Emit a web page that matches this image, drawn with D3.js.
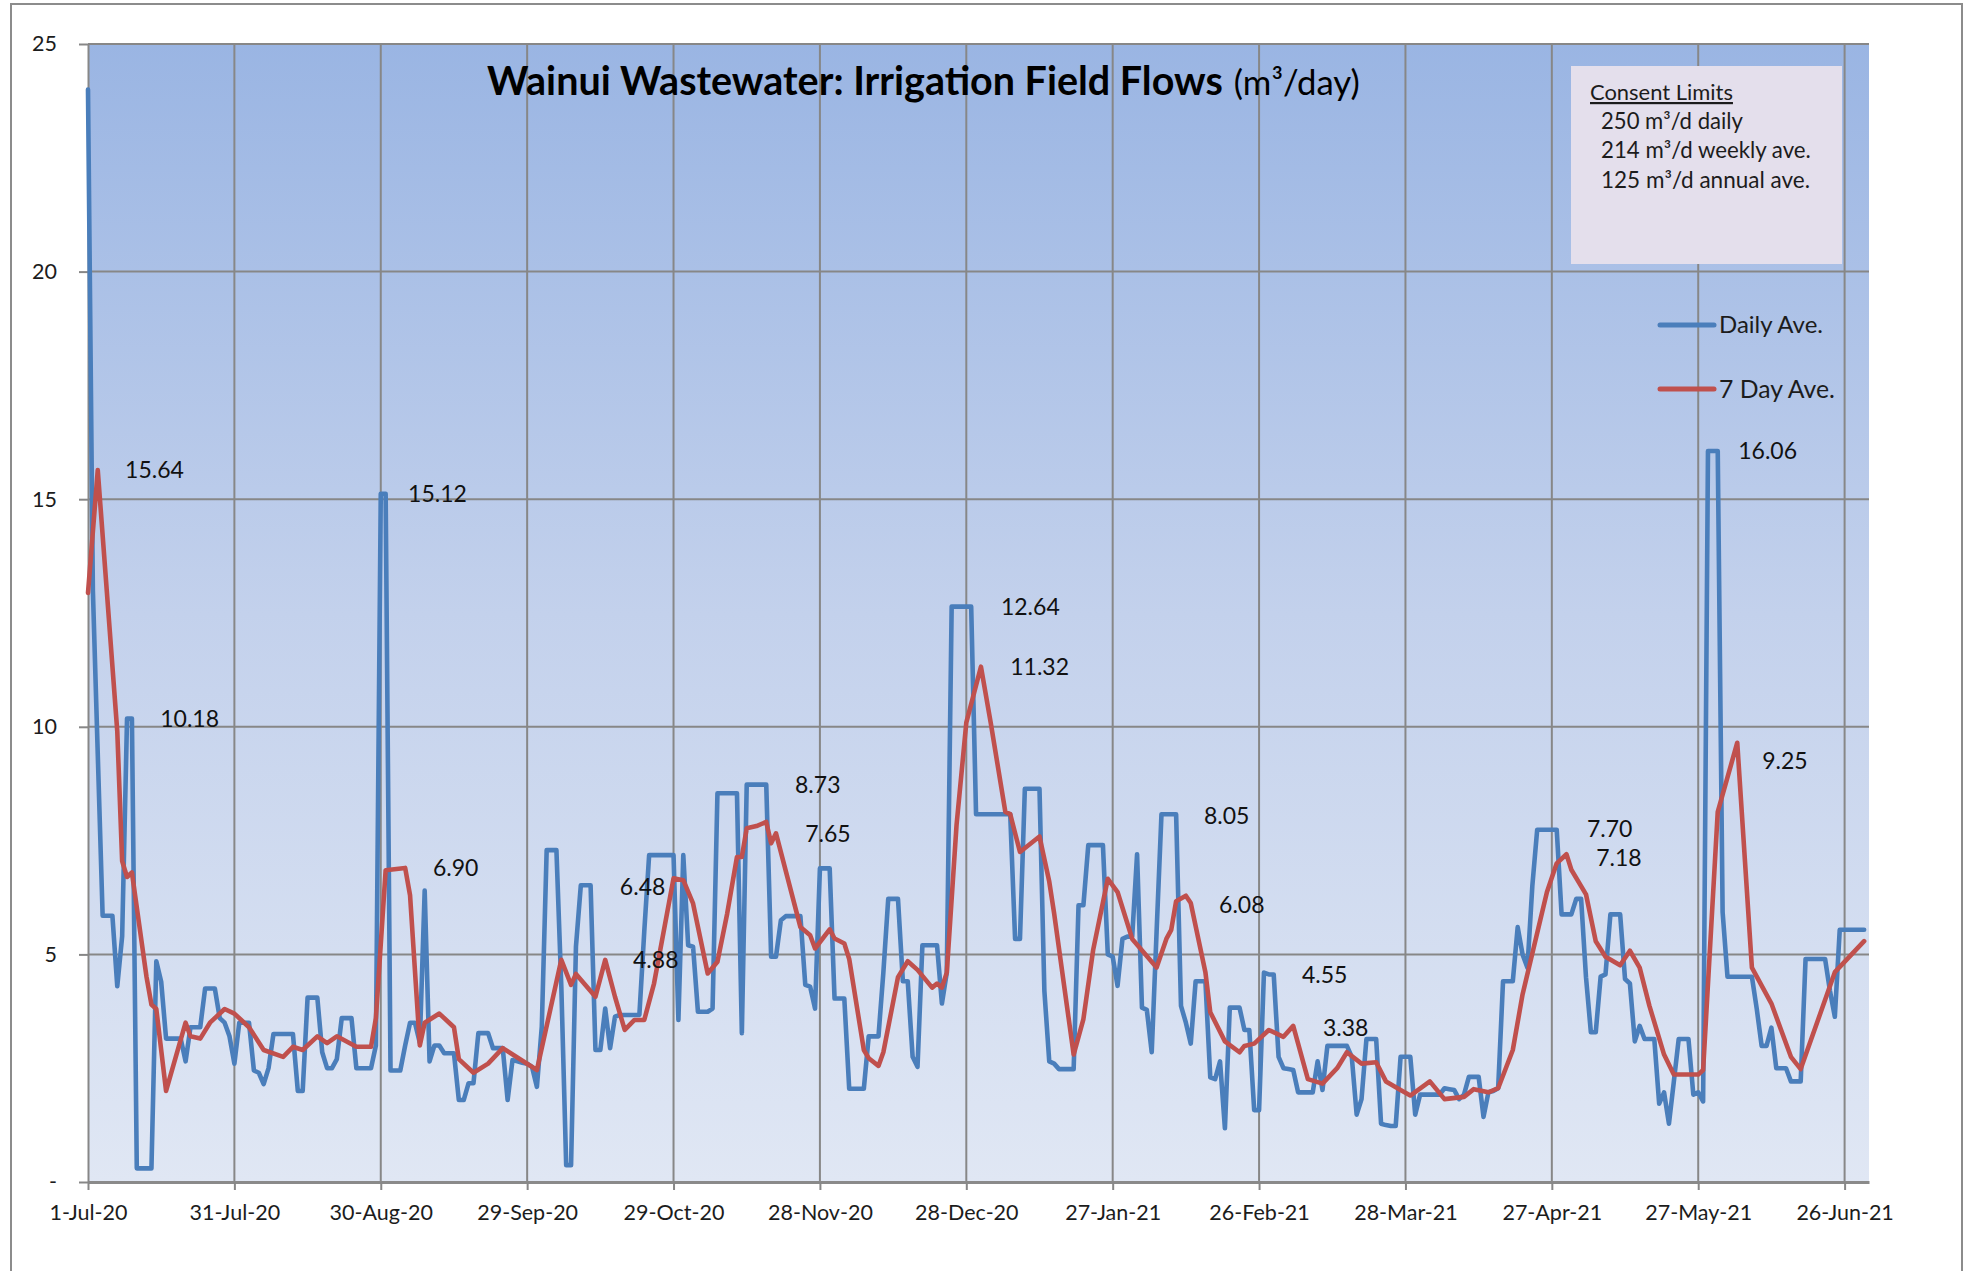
<!DOCTYPE html>
<html><head><meta charset="utf-8">
<script src="https://cdn.jsdelivr.net/npm/d3@7"></script>
<style>
html,body{margin:0;padding:0;background:#fff;}
svg{display:block;font-family:Lato,"Noto Sans",sans-serif;}
</style></head><body>
<svg id="chart" width="1963" height="1271"></svg>
<script>
// ---------------- DATA ----------------
const startDate = "2020-07-01";
const endDate = "2021-07-01";
const xTickLabels = ["1-Jul-20","31-Jul-20","30-Aug-20","29-Sep-20","29-Oct-20","28-Nov-20","28-Dec-20","27-Jan-21","26-Feb-21","28-Mar-21","27-Apr-21","27-May-21","26-Jun-21"];
const yTickValues = [0,5,10,15,20,25];
const yTickLabels = ["-","5","10","15","20","25"];
const seriesNames = ["Daily Ave.","7 Day Ave."];
const titleMain = "Wainui Wastewater: Irrigation Field Flows";
const titleUnit = "(m³/day)";
const consentTitle = "Consent Limits";
const consentLines = ["250 m³/d daily","214 m³/d weekly ave.","125 m³/d annual ave."];

// Daily average, one value per day from 1-Jul-20
const dailyAve = [
24.0,13.0,9.4,5.85,5.85,5.85,4.3,5.4,10.18,10.18,
0.3,0.3,0.3,0.3,4.85,4.4,3.15,3.15,3.15,3.15,
2.65,3.4,3.4,3.4,4.25,4.25,4.25,3.6,3.5,3.2,
2.6,3.5,3.5,3.5,2.45,2.4,2.15,2.5,3.25,3.25,
3.25,3.25,3.25,2.0,2.0,4.05,4.05,4.05,2.85,2.5,
2.5,2.7,3.6,3.6,3.6,2.5,2.5,2.5,2.5,3.0,
15.12,15.12,2.45,2.45,2.45,3.0,3.5,3.5,3.06,6.4,
2.65,3.0,3.0,2.83,2.83,2.83,1.8,1.8,2.17,2.17,
3.27,3.27,3.27,2.94,2.94,2.94,1.8,2.68,2.65,2.62,
2.6,2.53,2.09,3.41,7.29,7.29,7.29,4.3,0.37,0.37,
5.17,6.52,6.52,6.52,2.9,2.9,3.81,2.94,3.63,3.67,
3.67,3.67,3.67,3.67,5.5,7.18,7.18,7.18,7.18,7.18,
7.18,3.56,7.18,5.2,5.17,3.74,3.74,3.74,3.81,8.54,
8.54,8.54,8.54,8.54,3.27,8.73,8.73,8.73,8.73,8.73,
4.95,4.95,5.75,5.84,5.84,5.84,5.84,4.33,4.29,3.81,
6.89,6.89,6.89,4.03,4.03,4.03,2.05,2.05,2.05,2.05,
3.2,3.2,3.2,4.6,6.22,6.22,6.22,4.41,4.41,2.75,
2.53,5.2,5.2,5.2,5.2,3.92,4.6,12.64,12.64,12.64,
12.64,12.64,8.08,8.08,8.08,8.08,8.08,8.08,8.08,8.08,
5.34,5.34,8.64,8.64,8.64,8.64,4.2,2.65,2.6,2.48,
2.48,2.48,2.48,6.08,6.08,7.4,7.4,7.4,7.4,5.0,
4.95,4.31,5.34,5.39,5.39,7.2,3.83,3.78,2.85,5.5,
8.08,8.08,8.08,8.08,3.87,3.5,3.04,4.41,4.41,4.41,
2.3,2.26,2.65,1.18,3.83,3.83,3.83,3.34,3.34,1.58,
1.58,4.6,4.56,4.56,2.75,2.5,2.48,2.46,1.97,1.97,
1.97,1.97,2.65,2.02,2.99,2.99,2.99,2.99,2.99,2.75,
1.48,1.82,3.14,3.14,3.14,1.28,1.25,1.23,1.23,2.75,
2.75,2.75,1.48,1.92,1.92,1.92,1.92,1.92,2.06,2.04,
2.02,1.82,1.92,2.31,2.31,2.31,1.43,1.97,2.0,2.06,
4.41,4.41,4.41,5.6,5.0,4.71,6.5,7.74,7.74,7.74,
7.74,7.74,5.88,5.88,5.88,6.22,6.22,4.5,3.29,3.29,
4.51,4.56,5.88,5.88,5.88,4.46,4.36,3.09,3.43,3.14,
3.14,3.14,1.72,1.97,1.28,2.2,3.14,3.14,3.14,1.92,
1.97,1.77,16.06,16.06,16.06,5.93,4.51,4.51,4.51,4.51,
4.51,4.51,3.8,2.99,2.99,3.39,2.5,2.5,2.5,2.21,
2.21,2.21,4.9,4.9,4.9,4.9,4.9,4.2,3.63,5.54,
5.54,5.54,5.54,5.54,5.54
];

// 7-day average, read at the visible vertices (day offset from 1-Jul-20)
const sevenDayDays = [0,2,6,7,8,9,12,13,14,16,20,21,23,25,28,30,33,36,40,42,44,47,49,51,55,58,59,61,65,66,68,69,72,75,76,79,82,85,92,97,99,100,104,106,108,110,112,114,116,120,122,124,127,129,131,133,134,135,137,139,140,141,146,148,149,152,153,155,156,159,160,162,163,166,168,170,173,174,175,176,178,180,183,185,188,189,191,195,197,198,202,204,206,209,211,214,219,221,222,223,225,226,229,230,233,236,237,239,242,245,247,250,253,256,258,261,264,266,269,271,275,278,282,284,287,289,292,294,299,301,303,304,307,309,311,314,316,318,320,323,325,330,331,334,338,341,345,349,351,358,361,364];
const sevenDayAve = [12.94,15.64,9.9,7.05,6.7,6.8,4.5,3.9,3.8,2.0,3.5,3.2,3.15,3.5,3.8,3.7,3.4,2.9,2.75,2.97,2.9,3.2,3.05,3.2,2.97,2.97,3.6,6.85,6.9,6.3,3.0,3.5,3.7,3.4,2.7,2.4,2.6,2.94,2.46,4.88,4.33,4.57,4.07,4.88,4.07,3.34,3.56,3.56,4.36,6.67,6.63,6.12,4.58,4.84,5.9,7.14,7.14,7.77,7.82,7.91,7.44,7.66,5.6,5.42,5.13,5.55,5.35,5.24,4.9,2.9,2.72,2.55,2.85,4.5,4.85,4.66,4.27,4.36,4.27,4.6,7.84,10.09,11.32,10.09,8.13,8.08,7.25,7.59,6.6,5.9,2.8,3.58,5.1,6.66,6.37,5.34,4.71,5.34,5.54,6.17,6.29,6.13,4.61,3.73,3.09,2.85,2.99,3.04,3.34,3.19,3.43,2.26,2.16,2.5,2.85,2.6,2.63,2.21,2.02,1.9,2.21,1.82,1.87,2.04,1.97,2.06,2.9,4.12,6.37,7.0,7.2,6.86,6.32,5.29,4.95,4.76,5.08,4.71,3.87,2.8,2.36,2.36,2.46,8.13,9.65,4.71,3.92,2.75,2.48,4.61,4.95,5.29];

// Data labels (text) and where they are anchored (day, value level)
const labelTexts = ["15.64","10.18","15.12","6.90","6.48","4.88","8.73","7.65","12.64","11.32","8.05","6.08","4.55","3.38","7.70","7.18","16.06","9.25"];
const labelDays = [7.6,14.8,65.6,70.7,109.0,111.7,144.9,147.0,187.1,189.0,228.7,231.8,248.8,253.1,307.2,309.1,338.2,343.1];
const labelLevels = [15.64,10.18,15.12,6.90,6.48,4.88,8.73,7.65,12.64,11.32,8.05,6.08,4.55,3.38,7.76,7.12,16.06,9.25];

// ---------------- CHART ----------------
const svg = d3.select("#chart");
const PL = 88, PR = 1869, PT = 44, PB = 1182;
const parseISO = d3.timeParse("%Y-%m-%d");
const parseTick = d3.timeParse("%d-%b-%y");
const t0 = parseISO(startDate), t1 = parseISO(endDate);
const dayDate = d => new Date(t0.getTime() + d * 86400000);
const tickDates = xTickLabels.map(parseTick);

const x = d3.scaleTime().domain([t0, t1]).range([PL, PR]);
const y = d3.scaleLinear().domain([0, 25]).range([PB, PT]);

const GRID = "#878787";
const BLUE = "#4a7ebb";
const RED = "#c0504d";
const TXT = "#1c1c1c";

// gradient
const defs = svg.append("defs");
const grad = defs.append("linearGradient").attr("id","bg").attr("x1",0).attr("y1",0).attr("x2",0).attr("y2",1);
grad.append("stop").attr("offset","0%").attr("stop-color","#9ab5e3");
grad.append("stop").attr("offset","50%").attr("stop-color","#c3d1ec");
grad.append("stop").attr("offset","100%").attr("stop-color","#e0e7f4");

svg.append("rect").attr("x",PL).attr("y",PT).attr("width",PR-PL).attr("height",PB-PT).attr("fill","url(#bg)");

// outer frame
svg.append("rect").attr("x",11).attr("y",4).attr("width",1951).attr("height",1320)
  .attr("fill","none").attr("stroke","#8c8c8c").attr("stroke-width",2);

// gridlines
svg.append("g").selectAll("line").data(yTickValues.filter(v=>v>0)).join("line")
  .attr("x1",PL).attr("x2",PR).attr("y1",d=>y(d)).attr("y2",d=>y(d))
  .attr("stroke",GRID).attr("stroke-width",2);
svg.append("g").selectAll("line").data(tickDates.slice(1)).join("line")
  .attr("x1",d=>x(d)).attr("x2",d=>x(d)).attr("y1",PT).attr("y2",PB)
  .attr("stroke",GRID).attr("stroke-width",2);

// axes
const xAxis = d3.axisBottom(x).tickValues(tickDates).tickFormat((d,i)=>xTickLabels[i])
  .tickSize(8).tickSizeOuter(0).tickPadding(15);
const gx = svg.append("g").attr("transform",`translate(0,${PB})`).call(xAxis);
gx.select(".domain").attr("stroke","#8a8a8a").attr("stroke-width",3);
gx.selectAll(".tick line").attr("stroke",GRID).attr("stroke-width",2);
gx.selectAll(".tick text").attr("fill",TXT).attr("font-size",21.5).attr("font-family","Lato");

const yAxis = d3.axisLeft(y).tickValues(yTickValues).tickFormat((d,i)=>yTickLabels[i])
  .tickSize(9).tickSizeOuter(0).tickPadding(22);
const gy = svg.append("g").attr("transform",`translate(${PL},0)`).call(yAxis);
gy.select(".domain").attr("stroke",GRID).attr("stroke-width",2);
gy.selectAll(".tick line").attr("stroke",GRID).attr("stroke-width",2);
gy.selectAll(".tick text").attr("fill",TXT).attr("font-size",21.5).attr("font-family","Lato");

// lines
const line = d3.line().x(d=>x(d[0])).y(d=>y(d[1]));
const dailyPts = dailyAve.map((v,i)=>[dayDate(i), v]);
const sevenPts = sevenDayAve.map((v,i)=>[dayDate(sevenDayDays[i]), v]);
svg.append("path").datum(dailyPts).attr("d",line).attr("fill","none")
  .attr("stroke",BLUE).attr("stroke-width",4.6).attr("stroke-linejoin","round").attr("stroke-linecap","round");
svg.append("path").datum(sevenPts).attr("d",line).attr("fill","none")
  .attr("stroke",RED).attr("stroke-width",4.6).attr("stroke-linejoin","round").attr("stroke-linecap","round");

// data labels
svg.append("g").selectAll("text").data(labelTexts).join("text")
  .attr("x",(d,i)=>x(dayDate(labelDays[i])))
  .attr("y",(d,i)=>y(labelLevels[i]))
  .attr("dy","0.35em")
  .attr("font-size",23).attr("fill","#111").text(d=>d);

// helper: scale font so text spans a target width
function fit(sel, target){
  const w = sel.node().getComputedTextLength();
  const fs = parseFloat(sel.attr("font-size"));
  sel.attr("font-size", fs*target/w);
  return fs*target/w;
}

// title
const tmpB = svg.append("text").attr("font-weight",700).attr("font-size",100).text(titleMain);
const titleFs = 100*736/tmpB.node().getComputedTextLength();
tmpB.remove();
const tmpU = svg.append("text").attr("font-weight",400).attr("font-size",100).text(titleUnit);
const unitFs = 100*126/tmpU.node().getComputedTextLength();
tmpU.remove();
const title = svg.append("text").attr("x",487).attr("y",95).attr("fill","#000");
title.append("tspan").attr("font-weight",700).attr("font-size",titleFs).text(titleMain);
title.append("tspan").attr("font-weight",400).attr("font-size",unitFs).attr("dx",11).text(titleUnit);

// consent limits box
svg.append("rect").attr("x",1571).attr("y",66).attr("width",271).attr("height",198).attr("fill","#e4dfec");
const ct = svg.append("text").attr("x",1590).attr("y",100).attr("font-size",21).attr("fill",TXT)
  .attr("text-decoration","underline").text(consentTitle);
fit(ct,143);
const lineTargets = [142,210,209];
const lineBase = [129,158,188];
consentLines.forEach((s,i)=>{
  const t = svg.append("text").attr("x",1601).attr("y",lineBase[i]).attr("font-size",21).attr("fill",TXT).text(s);
  fit(t,lineTargets[i]);
});

// legend
const legY = [325,389];
const legCol = [BLUE,RED];
const legW = [104,116];
seriesNames.forEach((s,i)=>{
  svg.append("line").attr("x1",1660).attr("x2",1714).attr("y1",legY[i]).attr("y2",legY[i])
    .attr("stroke",legCol[i]).attr("stroke-width",5).attr("stroke-linecap","round");
  const t = svg.append("text").attr("x",1719).attr("y",legY[i]).attr("dy","0.35em")
    .attr("font-size",23).attr("fill",TXT).text(s);
  fit(t,legW[i]);
});
</script>
</body></html>
